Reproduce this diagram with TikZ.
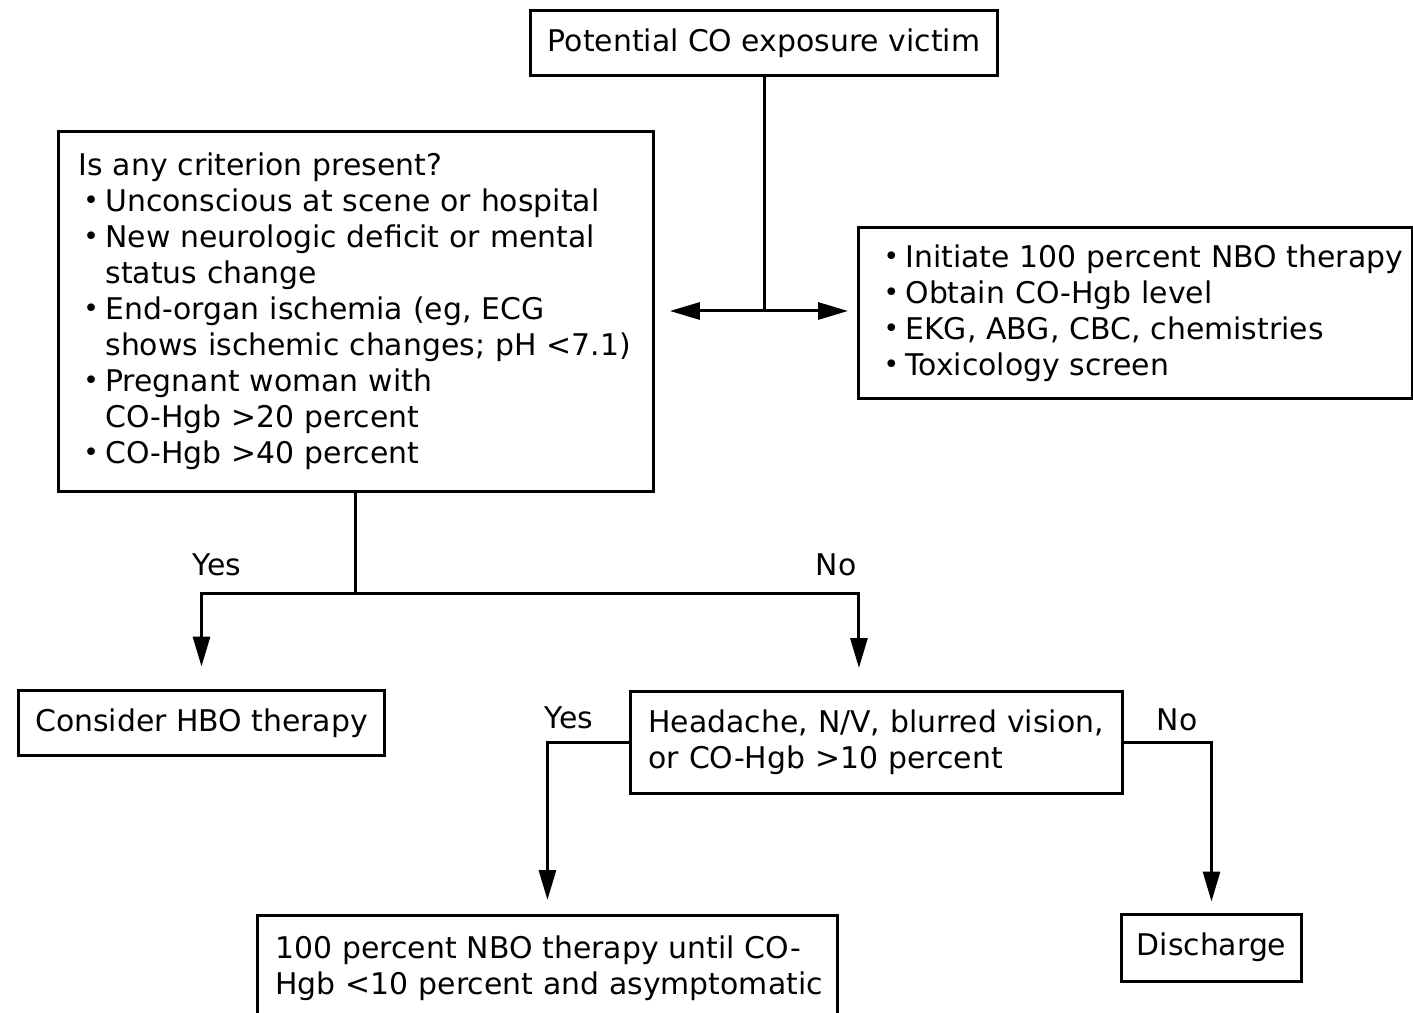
\documentclass[tikz,border=0pt]{standalone}
\usepackage{fontspec}
\setmainfont{DejaVu Sans}
\usetikzlibrary{arrows.meta, positioning, calc}

% bullet item and hanging indent
\newcommand{\itm}{\makebox[0.54cm][l]{\hspace{0.1cm}\raisebox{0.06em}{\fontsize{15}{15}\selectfont\textbullet}}}
\newcommand{\hng}{\hspace*{0.54cm}}

\begin{document}
\begin{tikzpicture}[
      x=0.02cm, y=-0.02cm,
      box/.style={draw, line width=0.06cm, rectangle, inner sep=0pt, font=\fontsize{17}{20.5}\selectfont},
      listbox/.style={box, align=left, anchor=north west, inner xsep=0.4cm},
      lbl/.style={font=\fontsize{17}{20.5}\selectfont, inner sep=1pt},
      line/.style={line width=0.06cm},
      arrow/.style={line, -{Triangle[length=0.6cm, width=0.34cm]}}
    ]
      \useasboundingbox (0,0) rectangle (1413,1013);
      \clip (0,0) rectangle (1413,1013);

      % Top: victim
      \node (start) [box, minimum width=9.36cm, minimum height=1.32cm] at (764,43)
        {Potential CO exposure victim};

      % Criteria
      \node (criteria) [listbox, text width=11.1cm, minimum height=7.2cm] at (57,130) {%
        \mbox{Is any criterion present?}\\
        \mbox{\itm Unconscious at scene or hospital}\\
        \mbox{\itm New neurologic deficit or mental}\\
        \mbox{\hng status change}\\
        \mbox{\itm End-organ ischemia (eg, ECG}\\
        \mbox{\hng shows ischemic changes; pH <7.1)}\\
        \mbox{\itm Pregnant woman with}\\
        \mbox{\hng CO-Hgb >20 percent}\\
        \mbox{\itm CO-Hgb >40 percent}
      };

      % Initial measures
      \node (actions) [listbox, text width=10.28cm, minimum height=3.42cm] at (857,226) {%
        \mbox{\itm Initiate 100 percent NBO therapy}\\
        \mbox{\itm Obtain CO-Hgb level}\\
        \mbox{\itm EKG, ABG, CBC, chemistries}\\
        \mbox{\itm Toxicology screen}
      };

      % Yes branch
      \node (hbo) [box, minimum width=7.34cm, minimum height=1.32cm] at (201.5,723)
        {Consider HBO therapy};

      % No branch: symptoms
      \node (symptoms) [listbox, inner xsep=0.36cm, text width=9.12cm, minimum height=2.04cm] at (629,690) {%
        \mbox{Headache, N/V, blurred vision,}\\
        \mbox{or CO-Hgb >10 percent}
      };

      % Outcomes
      \node (nbo) [listbox, inner xsep=0.36cm, text width=10.88cm, minimum height=2.1cm] at (256,914) {%
        \mbox{100 percent NBO therapy until CO-}\\
        \mbox{Hgb <10 percent and asymptomatic}
      };
      \node (discharge) [box, minimum width=3.62cm, minimum height=1.34cm] at (1211.5,947.5)
        {Discharge};

      % Labels
      \node (yes1) [lbl] at (217,565) {Yes};
      \node (no1) [lbl] at (836,565) {No};
      \node (yes2) [lbl] at (569,718) {Yes};
      \node (no2) [lbl] at (1177,720) {No};

      % Connectors
      \coordinate (split) at (764,311);
      \draw[line] (start) -- (split);
      \draw[arrow, shorten >=0.3cm] (split) -- (split -| criteria.east);
      \draw[arrow, shorten >=0.18cm] (split) -- (split -| actions.west);

      \draw[line] (criteria.south) -- ++(0,101) coordinate (fork);
      \coordinate (nofork) at ($(fork)+(503,0)$);
      \draw[arrow, shorten >=0.44cm] (fork) -| (hbo.north);
      \draw[arrow, shorten >=0.44cm] (fork) -- (nofork) -- (nofork |- symptoms.north);

      \draw[arrow, shorten >=0.28cm] (symptoms.west) -| (nbo.north);
      \draw[arrow, shorten >=0.22cm] (symptoms.east) -| (discharge.north);
    \end{tikzpicture}
\end{document}
